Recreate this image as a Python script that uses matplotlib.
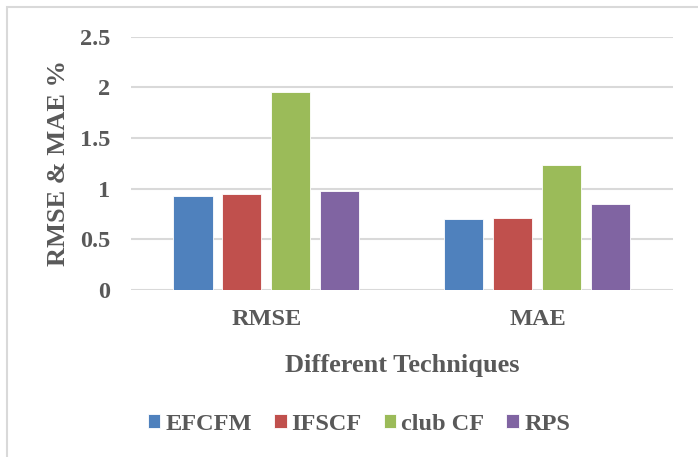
import numpy as np
import matplotlib.pyplot as plt
from matplotlib.patches import Rectangle

categories = ["RMSE", "MAE"]
methods = ["EFCFM", "IFSCF", "club CF", "RPS"]
efcfm = [0.93, 0.70]
ifscf = [0.95, 0.71]
club_cf = [1.95, 1.23]
rps = [0.98, 0.85]
yticks = [0, 0.5, 1, 1.5, 2, 2.5]
ytick_labels = ["0", "0.5", "1", "1.5", "2", "2.5"]

colors = ["#4F81BD", "#C0504D", "#9BBB59", "#8064A2"]
text_col = "#595959"

plt.rcParams["font.family"] = "Liberation Serif"
plt.rcParams["font.weight"] = "bold"
plt.rcParams["axes.labelweight"] = "bold"

fig = plt.figure(figsize=(6.98, 4.57), dpi=100)
ax = fig.add_axes([0.1877, 0.3654, 0.7763, 0.5547])

# outer chart frame (only top and left edges show)
fig.patches.append(Rectangle((7 / 698, -0.1), 1.2, 1.1 - 7 / 457,
                             transform=fig.transFigure, fill=False,
                             edgecolor="#D9D9D9", linewidth=1.5))

x = np.arange(len(categories))
width = 0.144
step = 0.1808
series = [efcfm, ifscf, club_cf, rps]
for i, (name, vals) in enumerate(zip(methods, series)):
    ax.bar(x + (i - 1.5) * step, vals, width, color=colors[i], label=name,
           edgecolor="white", linewidth=0.6, zorder=3)

ax.set_xlim(-0.5, 1.5)
ax.set_ylim(0, 2.5)
ax.set_yticks(yticks)
ax.set_yticklabels(ytick_labels)
ax.set_xticks(x)
ax.set_xticklabels(categories)
ax.grid(axis="y", color="#D9D9D9", linewidth=1.5, zorder=0)
ax.set_axisbelow(True)
for s in ax.spines.values():
    s.set_visible(False)
ax.tick_params(length=0, labelsize=17.5, colors=text_col)
ax.tick_params(axis="y", pad=15)
ax.tick_params(axis="x", pad=14)

ax.set_ylabel("RMSE & MAE %", fontsize=19, color=text_col, labelpad=7)
ax.set_xlabel("Different Techniques", fontsize=19, color=text_col, labelpad=17)

leg = fig.legend(loc="center", bbox_to_anchor=(0.514, 1 - 424 / 457), ncol=4,
                 frameon=False, fontsize=17.5, handlelength=0.53,
                 handleheight=0.53, handletextpad=0.2, columnspacing=0.9)
for t in leg.get_texts():
    t.set_color(text_col)

fig.savefig("out.png", dpi=100)
